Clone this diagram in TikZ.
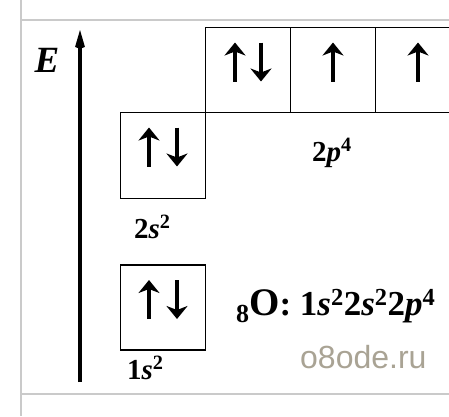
\documentclass[tikz,border=0pt]{standalone}
\usepackage{fontspec}
\setmainfont{Liberation Serif}
\newfontfamily\wmfont{Liberation Sans}
\usepackage{tikz}
\usetikzlibrary{positioning,arrows.meta}
\definecolor{framegray}{HTML}{CACACA}
\definecolor{wmgray}{HTML}{A9A394}
\tikzset{
  orbital/.style={draw, line width=1.8pt, minimum width=85pt, minimum height=85pt, inner sep=0pt, outer sep=0pt},
  spin/.style={line width=4pt, -{Stealth[length=13pt, width=21pt, inset=4pt]}},
  axis/.style={line width=4.5pt, -{Stealth[length=36pt, width=21pt, inset=20pt]}},
  sublabel/.style={font=\fontsize{29}{29}\selectfont\bfseries, inner sep=0pt, anchor=base west},
  frameline/.style={draw=framegray, line width=1.5pt}
}

\begin{document}
\begin{tikzpicture}[x=1pt, y=-1pt]
  \clip (0,0) rectangle (449,416);
  \fill[white] (0,0) rectangle (449,416);

  % page frame
  \coordinate (ftl) at (21,0);
  \coordinate (fbl) at (21,416);
  \coordinate (htl) at (21,20);
  \coordinate (htr) at (449,20);
  \coordinate (hbl) at (21,394);
  \coordinate (hbr) at (449,394);
  \draw[frameline] (ftl) -- (fbl);
  \draw[frameline] (htl) -- (htr);
  \draw[frameline] (hbl) -- (hbr);

  % energy axis
  \coordinate (ebot) at (80,382);
  \coordinate (etop) at (80,30);
  \draw[axis] (ebot) -- (etop);
  \node[font=\fontsize{37}{37}\selectfont\bfseries\itshape, inner sep=0pt] (E) at (47,60) {E};

  % orbitals
  \node[orbital] (p1) at (248,70) {};
  \node[orbital, right=0pt of p1] (p2) {};
  \node[orbital, right=0pt of p2] (p3) {};
  \node[orbital, minimum height=86pt] (s2) at (163,155.5) {};
  \node[orbital] (s1) at (163,307.5) {};

  % electrons
  \draw[spin] ([xshift=-13pt,yshift=-54pt]p1.north) -- ([xshift=-13pt,yshift=-15pt]p1.north);
  \draw[spin] ([xshift=13pt,yshift=-15pt]p1.north) -- ([xshift=13pt,yshift=-54pt]p1.north);
  \draw[spin] ([yshift=-54pt]p2.north) -- ([yshift=-15pt]p2.north);
  \draw[spin] ([yshift=-54pt]p3.north) -- ([yshift=-15pt]p3.north);
  \draw[spin] ([xshift=-14pt,yshift=-54pt]s2.north) -- ([xshift=-14pt,yshift=-15pt]s2.north);
  \draw[spin] ([xshift=14pt,yshift=-15pt]s2.north) -- ([xshift=14pt,yshift=-54pt]s2.north);
  \draw[spin] ([xshift=-14pt,yshift=-54pt]s1.north) -- ([xshift=-14pt,yshift=-15pt]s1.north);
  \draw[spin] ([xshift=14pt,yshift=-15pt]s1.north) -- ([xshift=14pt,yshift=-54pt]s1.north);

  % labels
  \node[sublabel] (l2p) at (312,161) {2\textit{p}\textsuperscript{4}};
  \node[sublabel] (l2s) at (134,238) {2\textit{s}\textsuperscript{2}};
  \node[sublabel] (l1s) at (127,379) {1\textit{s}\textsuperscript{2}};

  \node[font=\fontsize{35}{35}\selectfont\bfseries, inner sep=0pt, anchor=base west] (cfg) at (236,315)
    {\raisebox{-7pt}{\fontsize{26}{26}\selectfont 8}{\fontsize{39}{39}\selectfont O}: 1\textit{s}\textsuperscript{2}2\textit{s}\textsuperscript{2}2\textit{p}\textsuperscript{4}};
  \node[font=\fontsize{32}{32}\selectfont\wmfont, text=wmgray, inner sep=0pt, anchor=base west] (wm) at (300,368) {o8ode.ru};
\end{tikzpicture}
\end{document}
